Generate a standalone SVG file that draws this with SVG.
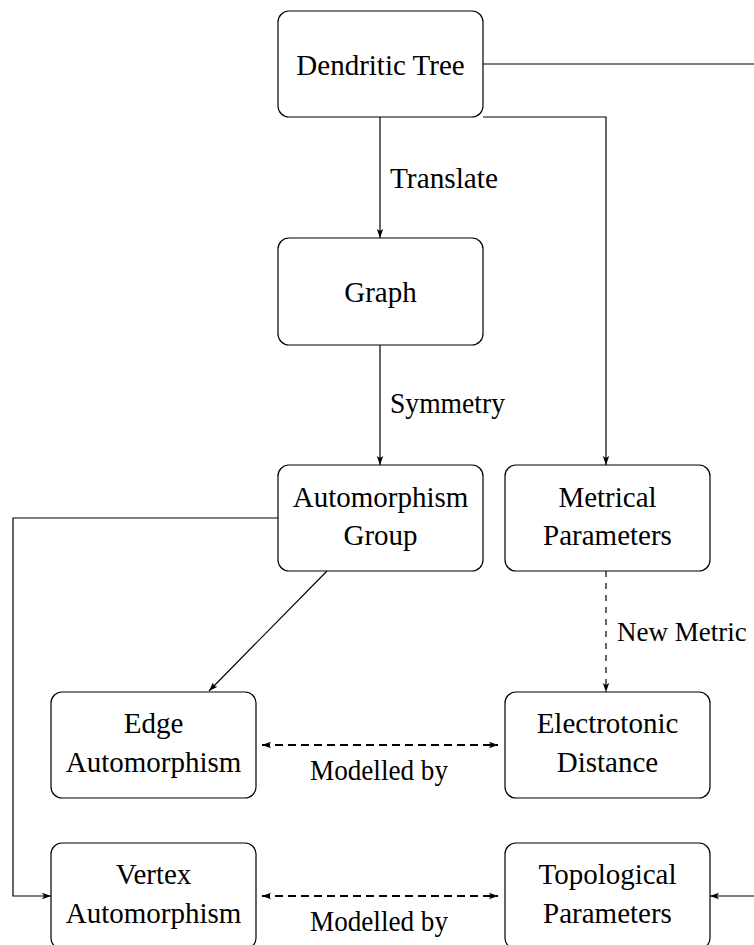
<svg xmlns="http://www.w3.org/2000/svg" width="754" height="945" viewBox="0 0 754 945">
  <style>
    .box { fill: #ffffff; stroke: #000000; stroke-width: 1.2; }
    .lbl { font-family: 'Liberation Serif', 'DejaVu Serif', serif; font-size: 29px; fill: #000000; }
    .mid { text-anchor: middle; }
    .edge { fill: none; stroke: #000000; stroke-width: 1.2; }
    .dash { stroke-dasharray: 6 6; }
    .dashbold { stroke-width: 1.8; stroke-dasharray: 8 5; }
  </style>
  <defs>
    <marker id="tip" markerWidth="10" markerHeight="8" refX="9" refY="4" orient="auto" markerUnits="userSpaceOnUse">
      <path d="M0,0.8 L9,4 L0,7.2 L2,4 Z" fill="#000000"/>
    </marker>
    <marker id="tipStart" markerWidth="10" markerHeight="8" refX="1" refY="4" orient="auto" markerUnits="userSpaceOnUse">
      <path d="M10,0.8 L1,4 L10,7.2 L8,4 Z" fill="#000000"/>
    </marker>
  </defs>

  <!-- connectors and their labels -->
  <g id="connectors">
    <path class="edge" d="M380,117 V238" marker-end="url(#tip)"/>
    <path class="edge" d="M380,345 V465" marker-end="url(#tip)"/>
    <path class="edge" d="M483,117 H606 V465" marker-end="url(#tip)"/>
    <path class="edge" d="M483,64 H762 V896 H710" marker-end="url(#tip)"/>
    <path class="edge" d="M278,518 H13 V896 H51" marker-end="url(#tip)"/>
    <path class="edge" d="M327,571 L209,691" marker-end="url(#tip)"/>
    <path class="edge dash" d="M606,571 V692" marker-end="url(#tip)"/>
    <path class="edge dashbold" d="M262,745 H498" marker-start="url(#tipStart)" marker-end="url(#tip)"/>
    <path class="edge dashbold" d="M262,896 H498" marker-start="url(#tipStart)" marker-end="url(#tip)"/>
    <text class="lbl" x="390" y="188" textLength="108" lengthAdjust="spacingAndGlyphs">Translate</text>
    <text class="lbl" x="390" y="413" textLength="115" lengthAdjust="spacingAndGlyphs">Symmetry</text>
    <text class="lbl" x="617" y="641" style="font-size:27px">New Metric</text>
    <text class="lbl" x="310" y="780" textLength="138" lengthAdjust="spacingAndGlyphs">Modelled by</text>
    <text class="lbl" x="310" y="931" textLength="138" lengthAdjust="spacingAndGlyphs">Modelled by</text>
  </g>

  <g id="dendritic-tree">
    <rect class="box" x="278" y="11" width="205" height="106" rx="11"/>
    <text class="lbl mid" x="380.5" y="75">Dendritic Tree</text>
  </g>

  <g id="graph">
    <rect class="box" x="278" y="238" width="205" height="107" rx="11"/>
    <text class="lbl mid" x="380.5" y="302">Graph</text>
  </g>

  <g id="automorphism-group">
    <rect class="box" x="278" y="465" width="205" height="106" rx="11"/>
    <text class="lbl mid" x="380.5" y="507">Automorphism</text>
    <text class="lbl mid" x="380.5" y="545">Group</text>
  </g>

  <g id="metrical-parameters">
    <rect class="box" x="505" y="465" width="205" height="106" rx="11"/>
    <text class="lbl mid" x="607.5" y="507">Metrical</text>
    <text class="lbl mid" x="607.5" y="545">Parameters</text>
  </g>

  <g id="edge-automorphism">
    <rect class="box" x="51" y="692" width="205" height="106" rx="11"/>
    <text class="lbl mid" x="153.5" y="733">Edge</text>
    <text class="lbl mid" x="153.5" y="772">Automorphism</text>
  </g>

  <g id="electrotonic-distance">
    <rect class="box" x="505" y="692" width="205" height="106" rx="11"/>
    <text class="lbl mid" x="607.5" y="733">Electrotonic</text>
    <text class="lbl mid" x="607.5" y="772">Distance</text>
  </g>

  <g id="vertex-automorphism">
    <rect class="box" x="51" y="843" width="205" height="106" rx="11"/>
    <text class="lbl mid" x="153.5" y="884">Vertex</text>
    <text class="lbl mid" x="153.5" y="923">Automorphism</text>
  </g>

  <g id="topological-parameters">
    <rect class="box" x="505" y="843" width="205" height="106" rx="11"/>
    <text class="lbl mid" x="607.5" y="884">Topological</text>
    <text class="lbl mid" x="607.5" y="923">Parameters</text>
  </g>
</svg>
